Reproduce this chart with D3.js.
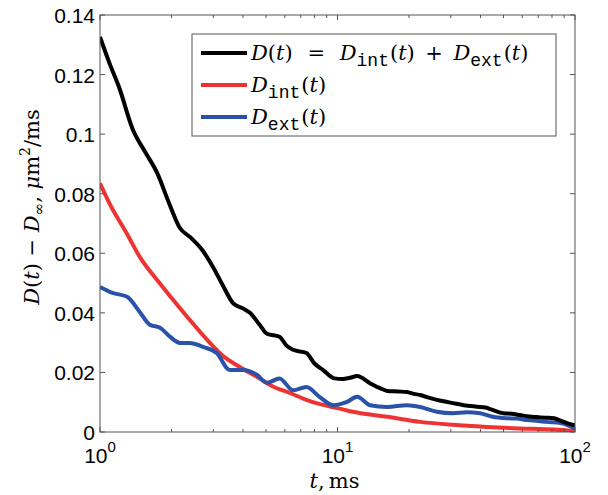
<!DOCTYPE html>
<html lang="en">
<head>
<meta charset="UTF-8">
<script src="https://d3js.org/d3.v7.min.js"></script>
<style>
  body { margin: 0; background: #fff; }
  .tick-label { font-family: "Liberation Sans", Arial, sans-serif; font-size: 21px; fill: #000; }
  .math { font-family: "DejaVu Serif", "Liberation Serif", serif; font-size: 21px; fill: #000; }
  .tt { font-family: "Liberation Mono", "DejaVu Sans Mono", monospace; }
</style>
</head>
<body>
<script>
// D(t) total
const totalT = [1, 1.1, 1.2, 1.377, 1.55, 1.74, 1.95, 2.17, 2.39, 2.7, 2.99, 3.3, 3.63, 4.0, 4.28, 4.7, 5.05, 5.7, 6.1, 6.5, 7.4, 8.0, 8.7, 9.7, 10.5, 11.3, 12.1, 13.7, 15, 16.2, 18, 19.6, 21, 22.3, 24, 26.2, 28, 30.6, 34, 38.6, 42, 45, 49.9, 54, 58.5, 64, 69, 75, 81.6, 87, 92.5, 100];
const totalV = [0.1326, 0.1235, 0.116, 0.1014, 0.094, 0.087, 0.077, 0.0685, 0.0655, 0.061, 0.0554, 0.049, 0.0433, 0.0415, 0.040, 0.036, 0.033, 0.032, 0.029, 0.0276, 0.0265, 0.023, 0.0208, 0.018, 0.0178, 0.0182, 0.0188, 0.0164, 0.0148, 0.0138, 0.0136, 0.0134, 0.0128, 0.0124, 0.0116, 0.0108, 0.0103, 0.0097, 0.009, 0.0085, 0.0082, 0.0074, 0.0063, 0.0061, 0.0057, 0.0052, 0.005, 0.0048, 0.0046, 0.0038, 0.003, 0.0022];

// D_int(t)
const intT = [1, 1.1, 1.3, 1.47, 1.74, 2.03, 2.39, 2.82, 3.3, 3.88, 4.58, 5.35, 6.3, 7.4, 8.7, 10.5, 11.6, 16.2, 22.3, 30.6, 42.5, 58.5, 81.6, 100];
const intV = [0.0835, 0.0765, 0.0665, 0.0588, 0.051, 0.0444, 0.0376, 0.031, 0.0255, 0.0218, 0.0185, 0.0153, 0.0131, 0.0108, 0.0091, 0.0076, 0.0068, 0.0051, 0.0034, 0.0024, 0.0017, 0.0012, 0.0008, 0.0003];

// D_ext(t)
const extT = [1, 1.13, 1.3, 1.47, 1.62, 1.79, 1.97, 2.17, 2.39, 2.71, 3.1, 3.52, 4.0, 4.58, 5.05, 5.7, 6.5, 7.4, 8.4, 9.6, 10.9, 12.1, 13.7, 16.2, 19.6, 22.3, 26.2, 30.6, 35, 39.8, 45, 51.7, 57, 63, 70, 76, 87, 100];
const extV = [0.0487, 0.0467, 0.0454, 0.0403, 0.036, 0.035, 0.032, 0.0299, 0.0299, 0.0286, 0.0265, 0.0208, 0.0208, 0.0192, 0.0165, 0.018, 0.014, 0.0151, 0.0118, 0.009, 0.010, 0.0118, 0.009, 0.0084, 0.009, 0.0084, 0.0068, 0.0063, 0.0066, 0.0063, 0.0051, 0.0046, 0.0045, 0.004, 0.0037, 0.0034, 0.003, 0.0012];

const yTicks = [0, 0.02, 0.04, 0.06, 0.08, 0.1, 0.12, 0.14];
const xTicks = [1, 10, 100];
const xTickExp = ["0", "1", "2"];

const width = 608, height = 495;
const margin = { top: 15, right: 33, bottom: 63, left: 100 };

const svg = d3.select("body").append("svg")
  .attr("width", width).attr("height", height)
  .attr("viewBox", [0, 0, width, height]);

const x = d3.scaleLog().domain([1, 100]).range([margin.left, width - margin.right]);
const y = d3.scaleLinear().domain([0, 0.14]).range([height - margin.bottom, margin.top]);

const zip = (ts, vs) => ts.map((t, i) => ({ t, v: vs[i] }));
const series = [
  { data: zip(totalT, totalV), color: "#000000" },
  { data: zip(intT, intV), color: "#ee3333" },
  { data: zip(extT, extV), color: "#2a52a8" }
];

const line = d3.line().curve(d3.curveMonotoneX).x(d => x(d.t)).y(d => y(d.v));

const x0 = x.range()[0], x1 = x.range()[1], y0 = y.range()[0], y1 = y.range()[1];

svg.append("clipPath").attr("id", "clip")
  .append("rect").attr("x", x0).attr("y", y1).attr("width", x1 - x0).attr("height", y0 - y1);

// draw order: red, blue, black on top
[series[1], series[2], series[0]].forEach(s => {
  svg.append("path")
    .datum(s.data)
    .attr("clip-path", "url(#clip)")
    .attr("fill", "none")
    .attr("stroke", s.color)
    .attr("stroke-width", 4)
    .attr("stroke-linejoin", "round")
    .attr("d", line);
});

// box + ticks
const axisColor = "#555";
const g = svg.append("g").attr("stroke", axisColor).attr("stroke-width", 1);
g.append("rect").attr("x", x0).attr("y", y1).attr("width", x1 - x0).attr("height", y0 - y1).attr("fill", "none");

yTicks.forEach(v => {
  g.append("line").attr("x1", x0).attr("x2", x0 + 5).attr("y1", y(v)).attr("y2", y(v));
  g.append("line").attr("x1", x1).attr("x2", x1 - 5).attr("y1", y(v)).attr("y2", y(v));
});
const minor = [];
[1, 10].forEach(d => { for (let k = 2; k <= 9; k++) minor.push(d * k); });
minor.forEach(t => {
  g.append("line").attr("x1", x(t)).attr("x2", x(t)).attr("y1", y0).attr("y2", y0 - 3);
  g.append("line").attr("x1", x(t)).attr("x2", x(t)).attr("y1", y1).attr("y2", y1 + 3);
});
xTicks.forEach(t => {
  g.append("line").attr("x1", x(t)).attr("x2", x(t)).attr("y1", y0).attr("y2", y0 - 5);
  g.append("line").attr("x1", x(t)).attr("x2", x(t)).attr("y1", y1).attr("y2", y1 + 5);
});

// tick labels
svg.append("g").selectAll("text").data(yTicks).join("text")
  .attr("class", "tick-label")
  .attr("x", x0 - 5).attr("y", d => y(d) + 8)
  .attr("text-anchor", "end")
  .text(d => d === 0 ? "0" : String(+d.toFixed(2)));

xTicks.forEach((t, i) => {
  const tx = svg.append("text").attr("class", "tick-label")
    .attr("x", x(t)).attr("y", y0 + 31).attr("text-anchor", "middle");
  tx.append("tspan").text("10");
  tx.append("tspan").attr("dy", -11).attr("font-size", 15).text(xTickExp[i]);
});

// x label
const xl = svg.append("text").attr("class", "math")
  .attr("x", (x0 + x1) / 2 - 3).attr("y", 488).attr("text-anchor", "middle");
xl.append("tspan").attr("font-style", "italic").text("t");
xl.append("tspan").text(",\u2009ms");

// y label
const yl = svg.append("text").attr("class", "math")
  .attr("font-size", 20)
  .attr("transform", `translate(39,207) rotate(-90)`)
  .attr("text-anchor", "middle");
yl.append("tspan").attr("font-style", "italic").text("D");
yl.append("tspan").text("(");
yl.append("tspan").attr("font-style", "italic").text("t");
yl.append("tspan").text(") − ");
yl.append("tspan").attr("font-style", "italic").text("D");
yl.append("tspan").attr("dy", 5).attr("font-size", 15).text("∞");
yl.append("tspan").attr("dy", -5).text(", ");
yl.append("tspan").attr("font-style", "italic").text("μ");
yl.append("tspan").text("m");
yl.append("tspan").attr("dy", -9).attr("font-size", 14).text("2");
yl.append("tspan").attr("dy", 9).text("/ms");

// legend
const lg = svg.append("g");
lg.append("rect").attr("x", 192).attr("y", 34).attr("width", 364).attr("height", 102)
  .attr("fill", "#fff").attr("stroke", axisColor).attr("stroke-width", 1);

function dTerm(sel, sub) {
  sel.append("tspan").attr("font-style", "italic").text("D");
  sel.append("tspan").attr("class", "tt").attr("dy", 6).attr("font-size", 18).text(sub);
  sel.append("tspan").attr("dy", -6).attr("dx", 1).text("(");
  sel.append("tspan").attr("font-style", "italic").text("t");
  sel.append("tspan").text(")");
}

const rows = [
  { color: "#000000", y: 53 },
  { color: "#ee3333", y: 85 },
  { color: "#2a52a8", y: 117 }
];
rows.forEach((r, i) => {
  lg.append("line").attr("x1", 201).attr("x2", 247).attr("y1", r.y).attr("y2", r.y)
    .attr("stroke", r.color).attr("stroke-width", 4);
  const t = lg.append("text").attr("class", "math").attr("x", 251).attr("y", r.y + 7);
  if (i === 0) {
    t.append("tspan").attr("font-style", "italic").text("D");
    t.append("tspan").text("(");
    t.append("tspan").attr("font-style", "italic").text("t");
    t.append("tspan").text(")\u2002\u2009=\u2002\u2009");
    dTerm(t, "int");
    t.append("tspan").text("\u2002+\u2002");
    dTerm(t, "ext");
  } else {
    dTerm(t, i === 1 ? "int" : "ext");
  }
});
</script>
</body>
</html>
